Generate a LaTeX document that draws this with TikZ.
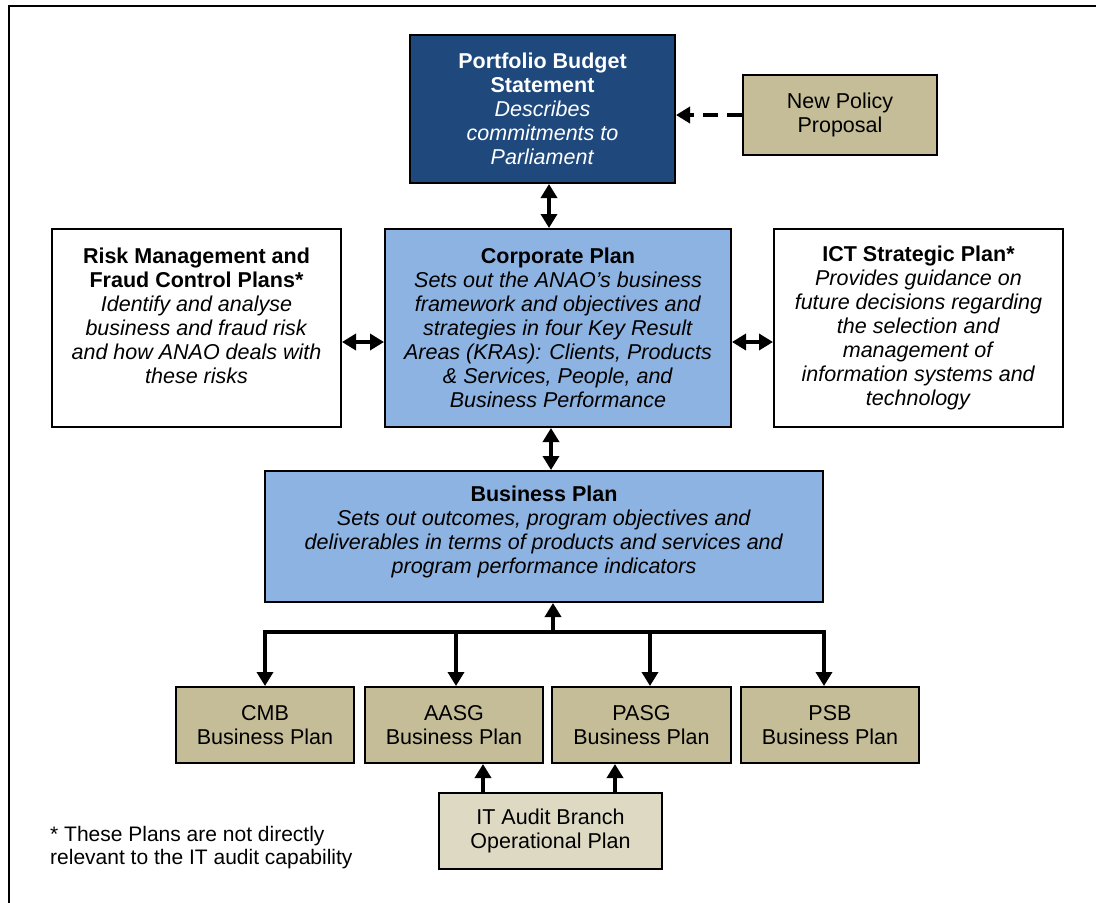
\documentclass[tikz,border=0pt]{standalone}
\usepackage{fontspec}
\setmainfont{Liberation Sans}
\usetikzlibrary{arrows.meta}
\definecolor{darkblue}{HTML}{1F497D}
\definecolor{lightblue}{HTML}{8DB3E2}
\definecolor{tan}{HTML}{C4BD97}
\definecolor{lighttan}{HTML}{DDD9C3}
\tikzset{
  box/.style={draw=black, line width=2pt, inner sep=0pt, align=center,
    font=\fontsize{21.5}{24}\selectfont},
  conn/.style={line width=3.8pt, draw=black},
  tip/.tip={Triangle[length=14pt,width=16pt]},
  arr/.style={conn, -tip},
  darr/.style={conn, tip-tip},
}
\begin{document}
\begin{tikzpicture}[x=1pt,y=-1pt]
\useasboundingbox (0,0) rectangle (1096,903);
\fill[white] (0,0) rectangle (1096,903);
\coordinate (tl) at (9,6);
\coordinate (tr) at (1096,6);
\coordinate (bl) at (9,903);
\draw[line width=2.4pt] (bl) -- (tl) -- (tr);

\node[box, fill=darkblue, text=white, minimum width=265pt, minimum height=148pt] (pbs) at (542.5,109)
  {\textbf{Portfolio Budget}\\\textbf{Statement}\\\textit{Describes}\\\textit{commitments to}\\\textit{Parliament}};
\node[box, fill=tan, minimum width=194pt, minimum height=80pt] (npp) at (840,115)
  {New Policy\\Proposal};
\node[box, fill=lightblue, minimum width=346pt, minimum height=198pt] (corp) at (558,328)
  {\textbf{Corporate Plan}\\\textit{Sets out the ANAO’s business}\\\textit{framework and objectives and}\\\textit{strategies in four Key Result}\\\textit{Areas (KRAs): Clients, Products}\\\textit{\& Services, People, and}\\\textit{Business Performance}};
\node[box, fill=white, minimum width=289pt, minimum height=198pt] (risk) at (196.5,328)
  {\textbf{Risk Management and}\\\textbf{Fraud Control Plans*}\\\textit{Identify and analyse}\\\textit{business and fraud risk}\\\textit{and how ANAO deals with}\\\textit{these risks}\\\mbox{}};
\node[box, fill=white, minimum width=289pt, minimum height=198pt] (ict) at (918.5,328)
  {\textbf{ICT Strategic Plan*}\\\textit{Provides guidance on}\\\textit{future decisions regarding}\\\textit{the selection and}\\\textit{management of}\\\textit{information systems and}\\\textit{technology}};
\node[box, fill=lightblue, minimum width=558pt, minimum height=131pt] (bp) at (544,536.5)
  {\textbf{Business Plan}\\\textit{Sets out outcomes, program objectives and}\\\textit{deliverables in terms of products and services and}\\\textit{program performance indicators}\\[-10pt]\mbox{}};
\node[box, fill=tan, minimum width=178pt, minimum height=76pt] (cmb) at (265,725) {CMB\\Business Plan};
\node[box, fill=tan, minimum width=178pt, minimum height=76pt] (aasg) at (454,725) {AASG\\Business Plan};
\node[box, fill=tan, minimum width=179pt, minimum height=76pt] (pasg) at (641.5,725) {PASG\\Business Plan};
\node[box, fill=tan, minimum width=178pt, minimum height=76pt] (psb) at (830,725) {PSB\\Business Plan};
\node[box, fill=lighttan, minimum width=223pt, minimum height=76pt] (itab) at (550.5,831) {IT Audit Branch\\Operational Plan};
\node[anchor=north west, inner sep=0pt, align=left, font=\fontsize{21}{23.5}\selectfont] (note) at (50,826)
  {* These Plans are not directly\\relevant to the IT audit capability};

% connectors
\coordinate (x1) at (549,0);
\coordinate (x2) at (551,0);
\draw[darr] (x1 |- pbs.south) -- (x1 |- corp.north);
\draw[darr] (x2 |- corp.south) -- (x2 |- bp.north);
\draw[conn, dash pattern=on 15pt off 9pt, -tip] (npp.west) -- (pbs.east |- npp.west);
\coordinate (ym) at (0,342);
\draw[darr] (risk.east |- ym) -- (corp.west |- ym);
\draw[darr] (corp.east |- ym) -- (ict.west |- ym);

\coordinate (busL) at (265,632);
\coordinate (busR) at (824,632);
\coordinate (busM) at (553,632);
\coordinate (d2) at (456,632);
\coordinate (d3) at (650,632);
\draw[conn, line cap=rect] (busL) -- (busR);
\draw[arr] (busM) -- (busM |- bp.south);
\draw[arr] (busL) -- (busL |- cmb.north);
\draw[arr] (d2) -- (d2 |- aasg.north);
\draw[arr] (d3) -- (d3 |- pasg.north);
\draw[arr] (busR) -- (busR |- psb.north);
\coordinate (u1) at (483,0);
\coordinate (u2) at (615,0);
\draw[arr] (u1 |- itab.north) -- (u1 |- aasg.south);
\draw[arr] (u2 |- itab.north) -- (u2 |- pasg.south);
\end{tikzpicture}
\end{document}
